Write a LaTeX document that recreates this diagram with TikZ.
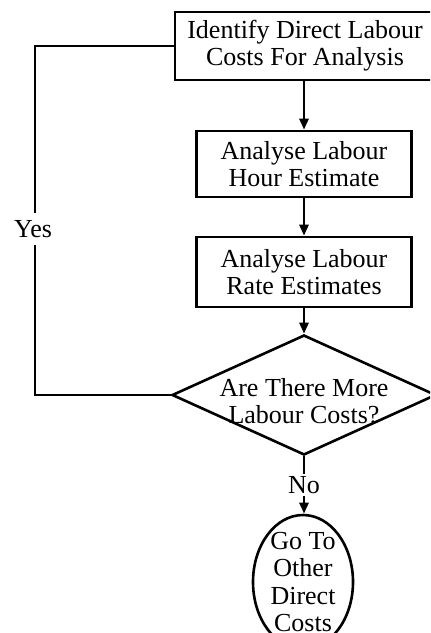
\documentclass[tikz,border=0pt]{standalone}
\usepackage{fontspec}
\setmainfont{Liberation Serif}
\usetikzlibrary{shapes.geometric,arrows.meta}
\begin{document}
\begin{tikzpicture}[x=1bp,y=-1bp,
  every node/.style={font=\fontsize{26bp}{27bp}\selectfont},
  line/.style={line width=2.6bp, draw=black},
  arr/.style={line, -{Triangle[length=11bp,width=9bp]}},
  procbox/.style={draw, line width=2.6bp, rectangle, align=center, inner sep=0pt},
  plainlabel/.style={align=center, inner sep=0pt},
]
\clip (0,0) rectangle (430,633);
\fill[white] (0,0) rectangle (430,633);

\node[procbox, minimum width=260bp, minimum height=68bp] (identify) at (305,46)
  {Identify Direct Labour\\Costs For Analysis};
\node[procbox, minimum width=215bp, minimum height=66bp] (hour) at (304,164)
  {Analyse Labour\\Hour Estimate};
\node[procbox, minimum width=215bp, minimum height=70bp] (rate) at (304,272)
  {Analyse Labour\\Rate Estimates};
\node[draw, line width=2.6bp, diamond, minimum width=264bp, minimum height=120bp, inner sep=0pt, aspect=2.2] (decide) at (304,395) {};
\node[plainlabel] (decidetext) at (304,401) {Are There More\\Labour Costs?};
\node[draw, line width=2.6bp, ellipse, minimum width=100bp, minimum height=134bp, inner sep=0pt] (other) at (303,582) {};
\node[plainlabel, font=\fontsize{26bp}{27.5bp}\selectfont] (othertext) at (303,582) {Go To\\Other\\Direct\\Costs};

\draw[arr] (hour.north |- identify.south) -- (hour.north);
\draw[arr] (hour.south) -- (rate.north);
\draw[arr] (rate.south) -- (decide.north);
\draw[arr] (decide.south) -- (decide.south |- other.north)
  node[pos=0.5, fill=white, inner sep=2bp] (no) {No};
\coordinate (yescorner) at (35,395);
\draw[line] (decide.west) -- (yescorner) |- (identify.west);
\node[fill=white, inner sep=0pt, minimum height=32bp] (yes) at (33,229) {Yes};
\end{tikzpicture}
\end{document}
